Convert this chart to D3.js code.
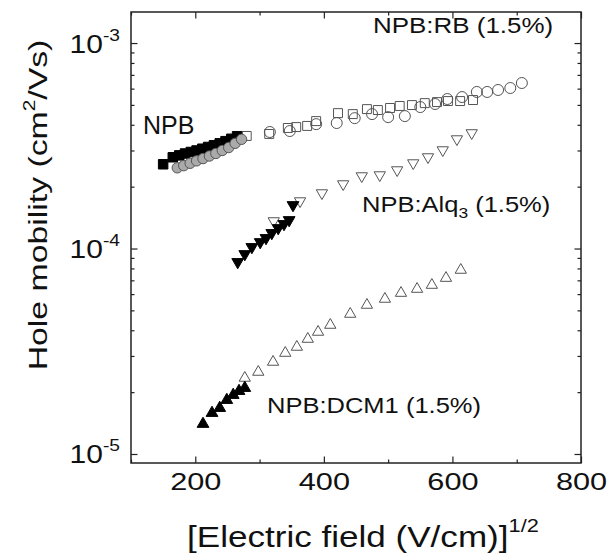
<!DOCTYPE html>
<html>
<head>
<meta charset="utf-8">
<script src="https://cdn.jsdelivr.net/npm/d3@7"></script>
<style>
  html, body { margin: 0; padding: 0; background: #fff; }
  svg { display: block; font-family: 'Liberation Sans', Arial, sans-serif; }
</style>
</head>
<body>
<div class="chart_container"></div>
<script>
'use strict';

// NPB (neat), two samples
const npbFieldA = [150, 165, 175, 184, 193, 202, 211, 220, 229, 238, 247, 256, 265];
const npbMobA = [2.57e-4, 2.78e-4, 2.84e-4, 2.90e-4, 2.95e-4, 3.00e-4, 3.06e-4, 3.12e-4, 3.18e-4, 3.25e-4, 3.33e-4, 3.42e-4, 3.52e-4];
const npbFieldB = [172, 182, 192, 202, 212, 222, 232, 242, 252, 262, 272];
const npbMobB = [2.47e-4, 2.53e-4, 2.60e-4, 2.67e-4, 2.74e-4, 2.82e-4, 2.90e-4, 3.00e-4, 3.10e-4, 3.25e-4, 3.40e-4];

// NPB:RB (1.5%)
const rbFieldSq = [280, 315, 344, 357, 374, 388, 422, 445, 467, 484, 503, 518, 537, 557, 576, 593, 612, 632];
const rbMobSq = [3.53e-4, 3.61e-4, 3.86e-4, 3.90e-4, 3.95e-4, 4.17e-4, 4.56e-4, 4.51e-4, 4.77e-4, 4.72e-4, 4.83e-4, 4.94e-4, 4.99e-4, 5.10e-4, 5.16e-4, 5.22e-4, 5.22e-4, 5.28e-4];
const rbFieldCi = [316, 347, 388, 420, 448, 475, 500, 526, 550, 573, 592, 615, 638, 654, 671, 690, 708];
const rbMobCi = [3.69e-4, 3.73e-4, 4.03e-4, 4.08e-4, 4.31e-4, 4.51e-4, 4.36e-4, 4.41e-4, 4.88e-4, 5.05e-4, 5.34e-4, 5.46e-4, 5.78e-4, 5.78e-4, 5.91e-4, 6.04e-4, 6.39e-4];

// NPB:Alq3 (1.5%)
const alqFieldLow = [266, 277, 288, 301, 310, 319, 329, 338, 346, 352];
const alqMobLow = [8.60e-5, 9.40e-5, 1.017e-4, 1.075e-4, 1.125e-4, 1.19e-4, 1.258e-4, 1.316e-4, 1.376e-4, 1.628e-4];
const alqFieldHigh = [322, 363, 397, 430, 459, 487, 514, 539, 562, 585, 607, 630];
const alqMobHigh = [1.361e-4, 1.702e-4, 1.862e-4, 2.06e-4, 2.253e-4, 2.278e-4, 2.41e-4, 2.606e-4, 2.788e-4, 3.015e-4, 3.41e-4, 3.65e-4];

// NPB:DCM1 (1.5%)
const dcmFieldLow = [212, 226, 238, 249, 259, 268, 277];
const dcmMobLow = [1.40e-5, 1.583e-5, 1.674e-5, 1.831e-5, 1.937e-5, 2.025e-5, 2.095e-5];
const dcmFieldHigh = [277, 298, 321, 340, 358, 375, 391, 410, 441, 467, 495, 520, 545, 568, 590, 613];
const dcmMobHigh = [2.344e-5, 2.506e-5, 2.804e-5, 3.10e-5, 3.317e-5, 3.627e-5, 3.924e-5, 4.243e-5, 4.80e-5, 5.31e-5, 5.68e-5, 6.07e-5, 6.35e-5, 6.64e-5, 7.18e-5, 7.86e-5];

const xMajor = [200, 400, 600, 800];
const xMinor = [100, 300, 500, 700];
const yMajorExp = [-5, -4, -3];

const width = 611,
  height = 558;
const mLeft = 131, mRight = 581, mTop = 12, mBottom = 463;

const svg = d3.select('.chart_container')
  .append('svg')
  .attr('width', width)
  .attr('height', height);

const xScale = d3.scaleLinear()
  .domain([100, 800])
  .range([mLeft, mRight]);

const yScale = d3.scaleLog()
  .domain([9.04e-6, 1.416e-3])
  .range([mBottom, mTop]);

const yMinor = [];
yMajorExp.forEach(e => {
  for (let k = 2; k <= 9; k++) {
    const v = k * Math.pow(10, e - 1);
    if (v >= yScale.domain()[0]) yMinor.push(v);
  }
});
for (let k = 2; k <= 9; k++) {
  const v = k * 1e-3;
  if (v <= yScale.domain()[1]) yMinor.push(v);
}

// ticks all point into the frame
const tickStyle = g => {
  g.select('.domain').remove();
  g.selectAll('.tick line').attr('stroke', '#222').attr('stroke-width', 1.2);
};

const blank = () => '';

svg.append('g').attr('transform', `translate(0,${mBottom})`)
  .call(d3.axisBottom(xScale).tickValues(xMinor).tickSize(-3.5).tickFormat(blank)).call(tickStyle);
svg.append('g').attr('transform', `translate(0,${mTop})`)
  .call(d3.axisTop(xScale).tickValues(xMinor).tickSize(-3.5).tickFormat(blank)).call(tickStyle);
svg.append('g').attr('transform', `translate(0,${mTop})`)
  .call(d3.axisTop(xScale).tickValues(xMajor).tickSize(-6.5).tickFormat(blank)).call(tickStyle);
svg.append('g').attr('transform', `translate(${mLeft},0)`)
  .call(d3.axisLeft(yScale).tickValues(yMinor).tickSize(-3.5).tickFormat(blank)).call(tickStyle);
svg.append('g').attr('transform', `translate(${mRight},0)`)
  .call(d3.axisRight(yScale).tickValues(yMinor).tickSize(-3.5).tickFormat(blank)).call(tickStyle);
svg.append('g').attr('transform', `translate(${mRight},0)`)
  .call(d3.axisRight(yScale).tickValues(yMajorExp.map(e => Math.pow(10, e))).tickSize(-6.5).tickFormat(blank)).call(tickStyle);

const xAxis = svg.append('g')
  .attr('transform', `translate(0,${mBottom})`)
  .call(d3.axisBottom(xScale).tickValues(xMajor).tickSize(-6.5).tickFormat(d3.format('d')))
  .call(tickStyle);

xAxis.selectAll('.tick text')
  .attr('y', 0)
  .attr('dy', 0)
  .attr('transform', 'translate(0,27) scale(1.28,1)')
  .attr('fill', '#111')
  .style('font-size', '24px');

const yAxis = svg.append('g')
  .attr('transform', `translate(${mLeft},0)`)
  .call(d3.axisLeft(yScale).tickValues(yMajorExp.map(e => Math.pow(10, e))).tickSize(-6.5).tickFormat(blank))
  .call(tickStyle);

yAxis.selectAll('.tick text')
  .attr('x', 0)
  .attr('dy', 0)
  .attr('transform', 'translate(-11,9) scale(1.2,1)')
  .attr('text-anchor', 'end')
  .attr('fill', '#111')
  .style('font-size', '25px')
  .each(function(d, i) {
    const t = d3.select(this);
    t.text('10');
    t.append('tspan')
      .attr('dy', -12)
      .style('font-size', '16px')
      .text(String(yMajorExp[i]));
  });

// frame
svg.append('rect')
  .attr('x', mLeft)
  .attr('y', mTop)
  .attr('width', mRight - mLeft)
  .attr('height', mBottom - mTop)
  .attr('fill', 'none')
  .attr('stroke', '#222')
  .attr('stroke-width', 1.5);

const plot = (xs, ys, type, size, opts) => {
  const sym = d3.symbol().type(type).size(size);
  svg.append('g')
    .selectAll('path')
    .data(xs.map((x, i) => [x, ys[i]]))
    .enter()
    .append('path')
    .attr('d', sym)
    .attr('transform', d => `translate(${xScale(d[0])},${yScale(d[1])})` + (opts.flip ? ' rotate(180)' : ''))
    .attr('fill', opts.fill)
    .attr('stroke', opts.stroke)
    .attr('stroke-width', opts.sw || 1);
};

const openStyle = { fill: 'none', stroke: '#555', sw: 1 };

plot(rbFieldSq, rbMobSq, d3.symbolSquare, 80, openStyle);
plot(rbFieldCi, rbMobCi, d3.symbolCircle, 95, openStyle);
plot(npbFieldA, npbMobA, d3.symbolSquare, 90, { fill: '#000', stroke: '#000' });
plot(npbFieldB, npbMobB, d3.symbolCircle, 85, { fill: '#aaa', stroke: '#555', sw: 1 });
plot(alqFieldHigh, alqMobHigh, d3.symbolTriangle, 55, Object.assign({ flip: true }, openStyle));
plot(alqFieldLow, alqMobLow, d3.symbolTriangle, 60, { fill: '#000', stroke: '#000', flip: true });
plot(dcmFieldHigh, dcmMobHigh, d3.symbolTriangle, 55, openStyle);
plot(dcmFieldLow, dcmMobLow, d3.symbolTriangle, 60, { fill: '#000', stroke: '#000' });

// annotations
const label = (x, y, size, sx, parts) => {
  const t = svg.append('text')
    .attr('transform', `translate(${x},${y}) scale(${sx},1)`)
    .attr('fill', '#111')
    .style('font-size', size + 'px');
  parts.forEach(p => {
    const s = t.append('tspan').text(p.text);
    if (p.dy) s.attr('dy', p.dy);
    if (p.size) s.style('font-size', p.size + 'px');
  });
  return t;
};

label(373, 33, 22, 1.18, [{ text: 'NPB:RB (1.5%)' }]);
label(143, 134, 25, 1.0, [{ text: 'NPB' }]);
label(362, 212, 22, 1.16, [{ text: 'NPB:Alq' }, { text: '3', dy: 6, size: 15 }, { text: ' (1.5%)', dy: -6 }]);
label(267, 413, 22, 1.16, [{ text: 'NPB:DCM1 (1.5%)' }]);

label(187, 547, 29, 1.21, [{ text: '[Electric field (V/cm)]' }, { text: '1/2', dy: -15, size: 18 }]);

svg.append('text')
  .attr('transform', 'translate(47,205) rotate(-90) scale(1.3,1)')
  .attr('text-anchor', 'middle')
  .attr('fill', '#111')
  .style('font-size', '26px')
  .call(t => {
    t.append('tspan').text('Hole mobility (cm');
    t.append('tspan').attr('dy', -12).style('font-size', '16px').text('2');
    t.append('tspan').attr('dy', 12).text('/Vs)');
  });
</script>
</body>
</html>
